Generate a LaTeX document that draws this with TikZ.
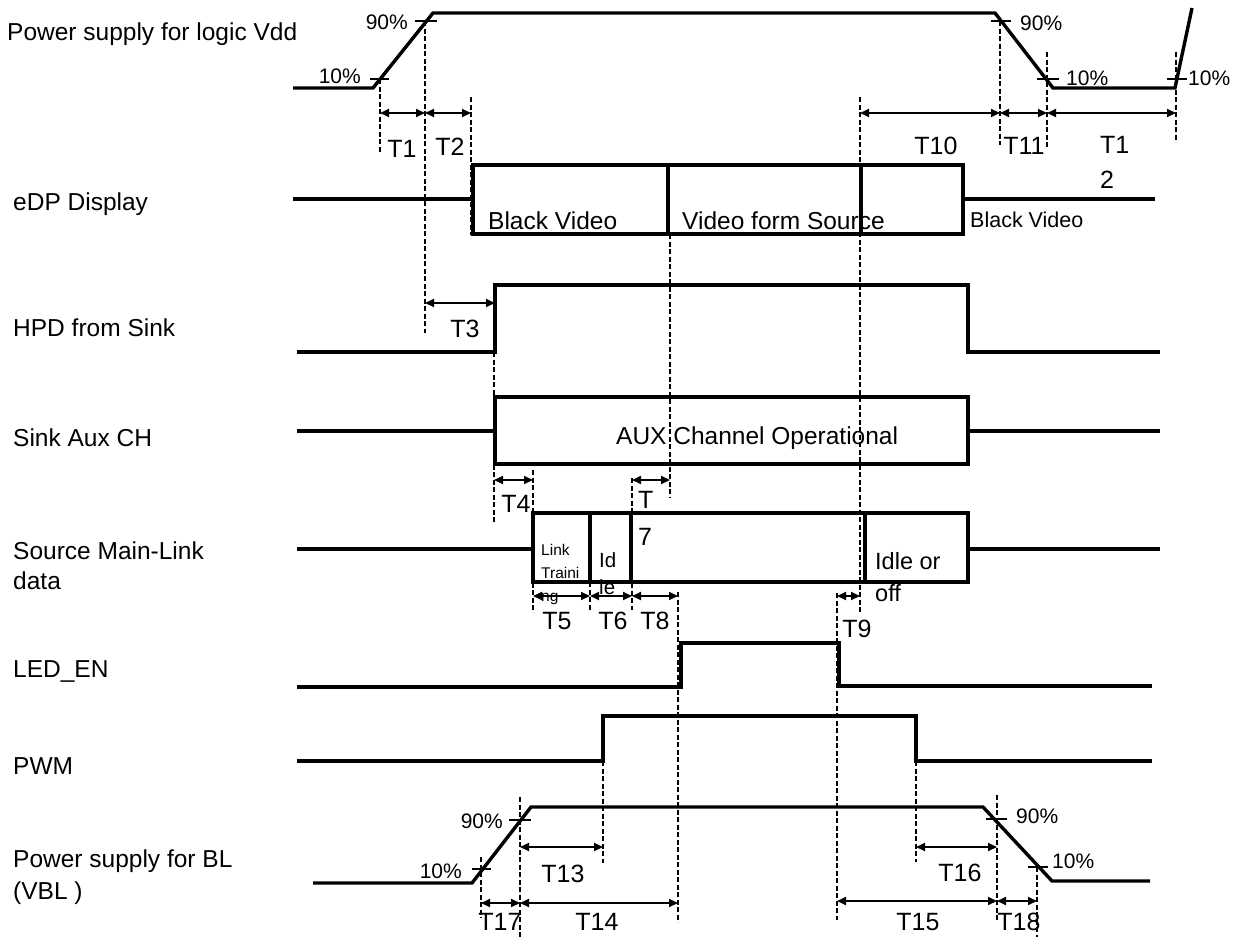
\documentclass[tikz,border=0pt]{standalone}
\usepackage{fontspec}
\setmainfont{Liberation Sans}
\usetikzlibrary{arrows.meta}
\begin{document}
\begin{tikzpicture}[x=1pt,y=-1pt,
  sig/.style={line width=3.4pt,line join=miter},
  tick/.style={line width=2.6pt},
  guide/.style={line width=1.4pt,dash pattern=on 5pt off 2.5pt},
  dim/.style={line width=1.8pt,{Triangle[length=9pt,width=8pt]}-{Triangle[length=9pt,width=8pt]}},
  lbl/.style={inner sep=0pt,anchor=west,font=\fontsize{24.5}{30}\selectfont,align=left},
  pct/.style={inner sep=0pt,font=\fontsize{21}{24}\selectfont},
  tl/.style={inner sep=0pt,font=\fontsize{25}{28}\selectfont},
  boxt/.style={inner sep=0pt,anchor=west,font=\fontsize{24.5}{28}\selectfont,align=left}]
\useasboundingbox (0,0) rectangle (1235,937);
\fill[white] (0,0) rectangle (1235,937);

% ---- signal names
\node[lbl] (nVdd) at (7,34) {Power supply for logic Vdd};
\node[lbl] (nEDP) at (13,204) {eDP Display};
\node[lbl] (nHPD) at (13,328) {HPD from Sink};
\node[lbl] (nAUX) at (13,438) {Sink Aux CH};
\node[lbl] (nSRC) at (13,566) {Source Main-Link\\data};
\node[lbl] (nLED) at (13,671) {LED\_EN};
\node[lbl] (nPWM) at (13,766) {PWM};
\node[lbl,font=\fontsize{24.5}{32}\selectfont] (nBL) at (13,877) {Power supply for BL\\(VBL )};

% ---- dashed guides
\foreach \n/\x/\ya/\yb in {g1/380/79/152, g2/425/21/333, g3/471/97/235, g4/1000/21/145,
  g5/1047/52/147, g6/1176/52/142, g7/860/97/612, g8/670/234/497, g9/494/352/522,
  g10/533/470/612, g11/590/582/610, g12/632/478/610, g13/678/592/922, g14/837/593/920,
  g15/603/761/863, g16/916/761/862, g17/481/857/918, g18/520/797/937, g19/997/795/920,
  g20/1037/867/937}{
  \coordinate (\n-a) at (\x,\ya);
  \coordinate (\n-b) at (\x,\yb);
  \draw[guide] (\n-a) -- (\n-b);
}

% ---- Vdd
\draw[sig] (293,88) -- (373,88) -- (433,13) -- (995,13) -- (1053,88) -- (1175,88) -- (1192,8);
\draw[tick] (370,79) -- (389,79);
\draw[tick] (415,21) -- (437,21);
\draw[tick] (991,21) -- (1011,21);
\draw[tick] (1037,79) -- (1059,79);
\draw[tick] (1167,79) -- (1187,79);
\node[pct,anchor=east] (p1) at (361,76) {10\%};
\node[pct,anchor=east] (p2) at (408,22) {90\%};
\node[pct,anchor=west] (p3) at (1020,23) {90\%};
\node[pct,anchor=west] (p4) at (1066,78) {10\%};
\node[pct,anchor=west] (p5) at (1188,78) {10\%};

% ---- eDP
\draw[sig] (293,199) -- (473,199);
\draw[sig] (473,165) rectangle (963,234);
\draw[sig] (668,165) -- (668,234);
\draw[sig] (861,165) -- (861,234);
\draw[sig] (963,199) -- (1155,199);
\node[boxt] (b1) at (488,221) {Black Video};
\node[boxt] (b2) at (682,221) {Video form Source};
\node[boxt,font=\fontsize{21.5}{24}\selectfont] (b3) at (970,220) {Black Video};

% ---- HPD
\draw[sig] (297,352) -- (495,352) -- (495,285) -- (968,285) -- (968,352) -- (1160,352);

% ---- Sink Aux
\draw[sig] (297,431) -- (495,431);
\draw[sig] (495,397) rectangle (968,464);
\draw[sig] (968,431) -- (1160,431);
\node[boxt] (b4) at (616,438) {AUX Channel Operational};

% ---- Source main link
\draw[sig] (297,549) -- (533,549);
\draw[sig] (533,513) rectangle (968,582);
\draw[sig] (590,513) -- (590,582);
\draw[sig] (631,513) -- (631,582);
\draw[sig] (865,513) -- (865,582);
\draw[sig] (968,549) -- (1160,549);
\node[boxt,font=\fontsize{15.5}{23}\selectfont] (b5) at (541,574) {Link\\Traini\\ng};
\node[boxt,font=\fontsize{20.5}{27}\selectfont] (b6) at (599,574) {Id\\le};
\node[boxt,font=\fontsize{23.5}{32}\selectfont] (b7) at (875,577) {Idle or\\off};

% ---- LED_EN
\draw[sig] (297,687) -- (681,687) -- (681,643) -- (839,643) -- (839,686) -- (1152,686);

% ---- PWM
\draw[sig] (297,761) -- (603,761) -- (603,716) -- (916,716) -- (916,761) -- (1152,761);

% ---- BL
\draw[sig] (313,883) -- (472,883) -- (531,807) -- (983,807) -- (1052,881) -- (1150,881);
\draw[tick] (472,869) -- (491,869);
\draw[tick] (509,820) -- (531,820);
\draw[tick] (986,819) -- (1007,819);
\draw[tick] (1028,867) -- (1048,867);
\node[pct,anchor=east] (p6) at (462,871) {10\%};
\node[pct,anchor=east] (p7) at (503,821) {90\%};
\node[pct,anchor=west] (p8) at (1016,816) {90\%};
\node[pct,anchor=west] (p9) at (1052,861) {10\%};

% ---- dimension arrows
\foreach \n/\xa/\xb/\y in {T1/380/425/113, T2/425/471/113, T10/860/1000/113, T11/1000/1047/113,
  T12/1047/1176/113, T3/425/495/303, T4/494/533/480, T7/632/670/480, T5/533/590/596,
  T6/590/632/596, T8/632/678/596, T9/837/860/596, T13/520/603/847, T16/916/997/847,
  T17/481/520/903, T14/520/678/903, T15/837/997/901, T18/997/1037/901}{
  \coordinate (\n-l) at (\xa,\y);
  \coordinate (\n-r) at (\xb,\y);
  \draw[dim] (\n-l) -- (\n-r);
}

% ---- T labels
\node[tl] (l1) at (402,149) {T1};
\node[tl] (l2) at (450,147) {T2};
\node[tl] (l10) at (936,146) {T10};
\node[tl] (l11) at (1024,146) {T11};
\node[tl,anchor=north west,align=left,font=\fontsize{25}{35}\selectfont] (l12) at (1100,136) {T1\\2};
\node[tl] (l3) at (465,329) {T3};
\node[tl] (l4) at (516,504) {T4};
\node[tl,anchor=north west,align=left,font=\fontsize{25}{37}\selectfont] (l7) at (638,491) {T\\7};
\node[tl] (l5) at (557,621) {T5};
\node[tl] (l6) at (613,621) {T6};
\node[tl] (l8) at (655,621) {T8};
\node[tl] (l9) at (857,629) {T9};
\node[tl] (l13) at (563,874) {T13};
\node[tl] (l16) at (960,873) {T16};
\node[tl] (l17) at (500,922) {T17};
\node[tl] (l14) at (597,922) {T14};
\node[tl] (l15) at (918,922) {T15};
\node[tl] (l18) at (1019,922) {T18};
\end{tikzpicture}
\end{document}
